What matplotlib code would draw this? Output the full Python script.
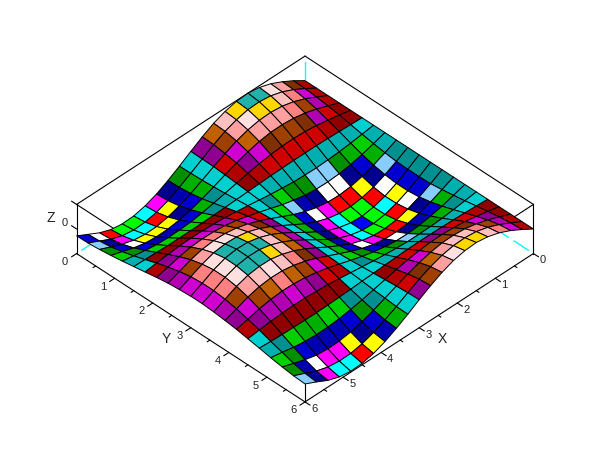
import matplotlib
matplotlib.use('Agg')
import numpy as np
import matplotlib.pyplot as plt
from matplotlib.colors import ListedColormap, BoundaryNorm
from mpl_toolkits.mplot3d import proj3d

plt.rcParams['font.family'] = ['Liberation Sans', 'DejaVu Sans']

x_values = [0.0, 0.3, 0.6, 0.9, 1.2, 1.5, 1.8, 2.1, 2.4, 2.7, 3.0, 3.3, 3.6, 3.9, 4.2, 4.5, 4.8, 5.1, 5.4, 5.7, 6.0]
y_values = [0.0, 0.3, 0.6, 0.9, 1.2, 1.5, 1.8, 2.1, 2.4, 2.7, 3.0, 3.3, 3.6, 3.9, 4.2, 4.5, 4.8, 5.1, 5.4, 5.7, 6.0]

# one row per x value, one column per y value
z_values = [
    [0, 0, 0, 0, 0, 0, 0, 0, 0, 0, 0, 0, 0, 0, 0, 0, 0, 0, 0, 0, 0],
    [.30, .28, .24, .18, .11, .02, -.07, -.15, -.22, -.27, -.29, -.29, -.27, -.21, -.14, -.06, .03, .11, .19, .25, .28],
    [.56, .54, .47, .35, .20, .04, -.13, -.29, -.42, -.51, -.56, -.56, -.51, -.41, -.28, -.12, .05, .21, .37, .48, .54],
    [.78, .75, .65, .49, .28, .06, -.18, -.40, -.58, -.71, -.78, -.77, -.70, -.57, -.38, -.17, .07, .30, .51, .67, .75],
    [.93, .89, .77, .58, .34, .07, -.21, -.47, -.69, -.84, -.92, -.92, -.84, -.68, -.46, -.20, .08, .35, .61, .80, .89],
    [1.00, .95, .82, .62, .36, .07, -.23, -.50, -.74, -.90, -.99, -.99, -.89, -.72, -.49, -.21, .09, .38, .65, .85, .96],
    [.97, .93, .80, .61, .35, .07, -.22, -.49, -.72, -.88, -.96, -.96, -.87, -.71, -.48, -.21, .09, .37, .64, .83, .93],
    [.86, .82, .71, .54, .31, .06, -.20, -.44, -.64, -.78, -.85, -.85, -.77, -.63, -.42, -.18, .08, .33, .56, .74, .83],
    [.68, .65, .56, .42, .24, .05, -.15, -.34, -.50, -.61, -.67, -.67, -.61, -.49, -.33, -.14, .06, .26, .44, .58, .65],
    [.43, .41, .35, .27, .15, .03, -.10, -.22, -.32, -.39, -.42, -.42, -.38, -.31, -.21, -.09, .04, .16, .28, .37, .41],
    [.14, .13, .12, .09, .05, .01, -.03, -.07, -.10, -.13, -.14, -.14, -.13, -.10, -.07, -.03, .01, .05, .09, .12, .14],
    [-.16, -.15, -.13, -.10, -.06, -.01, .04, .08, .12, .14, .16, .16, .14, .11, .08, .03, -.01, -.06, -.10, -.14, -.15],
    [-.44, -.42, -.37, -.28, -.16, -.03, .10, .22, .33, .40, .44, .44, .40, .32, .22, .09, -.04, -.17, -.29, -.38, -.42],
    [-.69, -.66, -.57, -.43, -.25, -.05, .16, .35, .51, .62, .68, .68, .62, .50, .34, .15, -.06, -.26, -.45, -.59, -.66],
    [-.87, -.83, -.72, -.54, -.32, -.06, .20, .44, .64, .79, .86, .86, .78, .63, .43, .18, -.08, -.33, -.57, -.75, -.84],
    [-.98, -.93, -.81, -.61, -.35, -.07, .22, .49, .72, .88, .97, .97, .88, .71, .48, .21, -.09, -.37, -.64, -.84, -.94],
    [-1.00, -.95, -.82, -.62, -.36, -.07, .23, .50, .73, .90, .99, .98, .89, .72, .49, .21, -.09, -.38, -.65, -.85, -.96],
    [-.93, -.88, -.76, -.58, -.34, -.07, .21, .47, .68, .84, .92, .91, .83, .67, .45, .20, -.08, -.35, -.61, -.79, -.89],
    [-.76, -.72, -.62, -.47, -.27, -.05, .17, .38, .56, .68, .75, .75, .68, .55, .37, .16, -.07, -.29, -.49, -.65, -.73],
    [-.52, -.49, -.43, -.32, -.19, -.04, .12, .26, .38, .47, .51, .51, .46, .37, .25, .11, -.05, -.19, -.34, -.44, -.49],
    [-.28, -.27, -.23, -.17, -.10, -.02, .06, .14, .21, .25, .28, .28, .25, .20, .14, .06, -.02, -.11, -.18, -.24, -.27],
]

# colour table from lowest to highest facet
facet_colors = [
    '#0000ff', '#00ff00', '#00ffff', '#ff0000', '#ff00ff', '#ffff00', '#ffffff',
    '#000090', '#0000b0', '#0000d0', '#87ceff',
    '#009000', '#00b000', '#00d000',
    '#009090', '#00b0b0', '#00d0d0',
    '#900000', '#b00000', '#d00000',
    '#900090', '#b000b0', '#d000d0',
    '#803000', '#a04000', '#c06000',
    '#ff8080', '#ffa0a0', '#ffc0c0', '#ffe0e0',
    '#ffd700', '#20b2aa',
]

x_ticks = [0, 1, 2, 3, 4, 5, 6]
y_ticks = [0, 1, 2, 3, 4, 5, 6]
x_minor = [0.5, 1.5, 2.5, 3.5, 4.5, 5.5]
y_minor = [0.5, 1.5, 2.5, 3.5, 4.5, 5.5]
z_ticks = [0, 1]

fig = plt.figure(figsize=(6.1, 4.6), dpi=100)
ax = fig.add_axes([-0.0421, -0.2189, 1.0557, 1.4], projection='3d', computed_zorder=False)
ax.set_proj_type('ortho')
ax.view_init(elev=40.5, azim=45)
ax.set_box_aspect((1, 1, 0.2), zoom=0.6955)
ax.set_xlim(0, 6)
ax.set_ylim(0, 6)
ax.set_zlim(-1, 1)
ax.set_axis_off()

X, Y = np.meshgrid(x_values, y_values, indexing='ij')
Z = np.array(z_values)

step = 2.0 / 32
bounds = [-1.5] + [-1 + step * (k + 0.5) for k in range(len(facet_colors) - 1)] + [1.5]
bounds[10] = -0.37  # dark blue / light blue
bounds[31] = 0.90   # gold / teal
cmap = ListedColormap(facet_colors)
norm = BoundaryNorm(bounds, cmap.N)
ax.plot_surface(X, Y, Z, rstride=1, cstride=1, cmap=cmap, norm=norm, edgecolor='k',
                linewidth=0.7, antialiased=True, zorder=2)

# box
for p, q in [((0, 0, 1), (6, 0, 1)), ((0, 0, 1), (0, 6, 1)), ((6, 0, 1), (6, 6, 1)), ((0, 6, 1), (6, 6, 1)),
             ((6, 0, -1), (6, 0, 1)), ((0, 6, -1), (0, 6, 1)), ((6, 6, -1), (6, 6, 1)),
             ((6, 0, -1), (6, 6, -1)), ((0, 6, -1), (6, 6, -1))]:
    ax.plot(*zip(p, q), color='k', lw=0.8, zorder=1)
# hidden edges, drawn from the outer corner towards the back one
for p, q in [((0, 0, 1), (0, 0, -1)), ((6, 0, -1), (0, 0, -1)), ((0, 6, -1), (0, 0, -1))]:
    ax.plot(*zip(p, q), color='#00ffff', lw=1, ls=(13, (13, 4)), zorder=1)


def put_label(x, y, z, s):
    # project by hand so the text sits in plain 2D axes coordinates
    px, py, _ = proj3d.proj_transform(x, y, z, ax.get_proj())
    ax.text2D(px, py, s, transform=ax.transData, ha='center', va='center', fontsize=8, color='#222222')


# ticks
tick_len = 0.13
for v in x_ticks:
    ax.plot([v, v], [6, 6 + tick_len], [-1, -1], color='k', lw=0.8, zorder=1)
    put_label(v, 6.24, -1, str(v))
for v in y_ticks:
    ax.plot([6, 6 + tick_len], [v, v], [-1, -1], color='k', lw=0.8, zorder=1)
    put_label(6.3, v, -1, str(v))
for v in x_minor:
    ax.plot([v, v], [6, 6 + tick_len / 2], [-1, -1], color='k', lw=0.8, zorder=1)
for v in y_minor:
    ax.plot([6, 6 + tick_len / 2], [v, v], [-1, -1], color='k', lw=0.8, zorder=1)
for v in z_ticks:
    ax.plot([6, 6], [0, -tick_len], [v, v], color='k', lw=0.8, zorder=1)
put_label(6, -0.3, 0, '0')

fig.text(442 / 610, 1 - 339 / 460, 'X', ha='center', va='center', fontsize=10, color='#222222')
fig.text(166 / 610, 1 - 339 / 460, 'Y', ha='center', va='center', fontsize=10, color='#222222')
fig.text(51 / 610, 1 - 218 / 460, 'Z', ha='center', va='center', fontsize=10, color='#222222')

fig.savefig('out.png', dpi=100)
